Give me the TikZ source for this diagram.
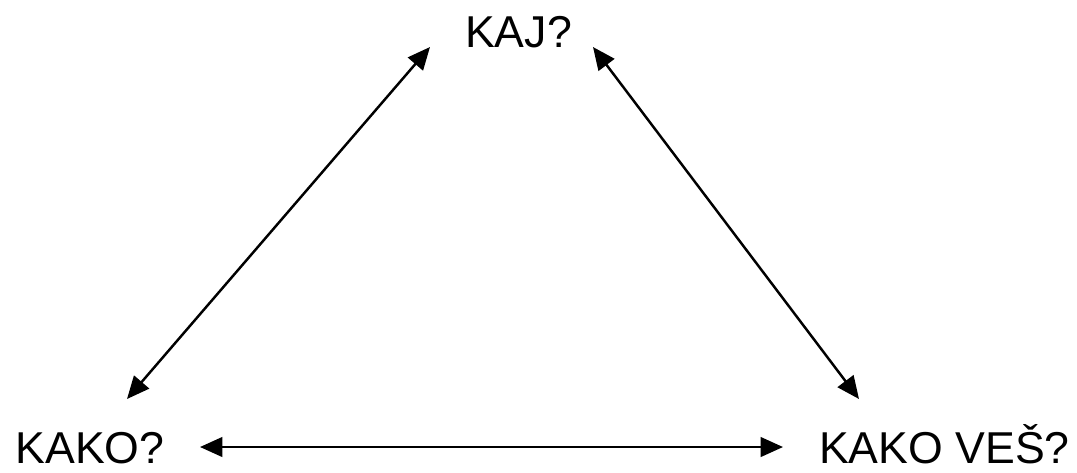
\documentclass[tikz,border=0pt]{standalone}
\usepackage{fontspec}
\setmainfont{Liberation Sans}
\usetikzlibrary{arrows.meta}
\begin{document}
\begin{tikzpicture}[line width=0.7pt,>={Triangle[length=6.4pt,width=5.6pt]}]
\useasboundingbox (0,0) rectangle (10.77,4.72);
\tikzset{lbl/.style={anchor=base,inner sep=0pt,font=\fontsize{12.7}{15}\selectfont}}
\node[lbl] (kaj) at (5.185,4.25) {KAJ?};
\node[lbl] (kako) at (0.90,0.09) {KAKO?};
\node[lbl] (kakoves) at (9.445,0.09) {KAKO VEŠ?};
% arrow ends
\coordinate (kaj-l) at (4.30,4.25);
\coordinate (kaj-r) at (5.93,4.25);
\coordinate (kako-u) at (1.27,0.73);
\coordinate (kako-r) at (2.00,0.25);
\coordinate (kakoves-u) at (8.59,0.73);
\coordinate (kakoves-l) at (7.83,0.25);
\draw[<->] (kako-u) -- (kaj-l);
\draw[<->] (kaj-r) -- (kakoves-u);
\draw[<->] (kako-r) -- (kakoves-l);
\end{tikzpicture}
\end{document}
